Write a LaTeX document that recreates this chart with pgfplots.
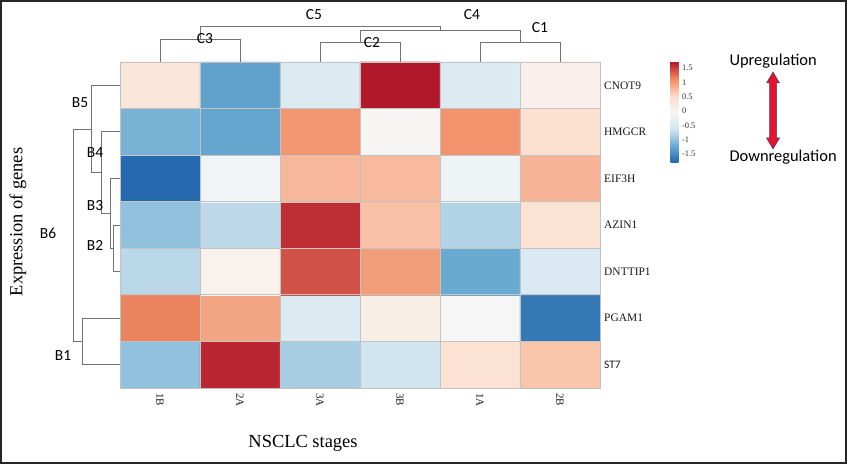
\documentclass[border=0pt]{standalone}
\usepackage{fontspec}
\setmainfont{Liberation Serif}
\newfontfamily\carlito{Carlito}
\usepackage{pgfplots}
\pgfplotsset{compat=1.18}
\usepackage{pgfplotstable}

% gene x stage values (x: 1B 2A 3A 3B 1A 2B ; y: ST7 ... CNOT9)
\pgfplotstableread{
x y c
0 0 -0.99
1 0 1.645
2 0 -0.87
3 0 -0.64
4 0 0.40
5 0 0.70
0 1 1.16
1 1 0.94
2 1 -0.47
3 1 0.15
4 1 -0.07
5 1 -1.65
0 2 -0.76
1 2 0.08
2 2 1.42
3 2 0.99
4 2 -1.21
5 2 -0.48
0 3 -0.99
1 3 -0.74
2 3 1.60
3 3 0.72
4 3 -0.81
5 3 0.38
0 4 -1.78
1 4 -0.16
2 4 0.80
3 4 0.78
4 4 -0.19
5 4 0.83
0 5 -1.13
1 5 -1.25
2 5 1.04
3 5 0.00
4 5 1.06
5 5 0.43
0 6 0.30
1 6 -1.28
2 6 -0.47
3 6 1.71
4 6 -0.47
5 6 0.10
}\heat

\definecolor{dendro}{RGB}{115,115,115}
\definecolor{cellline}{RGB}{195,195,195}
\definecolor{arrred}{RGB}{228,18,42}
\definecolor{arrblue}{RGB}{50,70,140}

\begin{document}
\begin{tikzpicture}[x=1bp,y=1bp]
\useasboundingbox (0,0) rectangle (847,464);
\draw[line width=2bp, black!85] (1,1) rectangle (846,463);

\begin{axis}[
  at={(120bp,76bp)}, anchor=south west,
  width=480bp, height=326bp, scale only axis,
  xmin=-0.5, xmax=5.5, ymin=-0.5, ymax=6.5,
  colormap={rdbu}{rgb255=(33,102,172) rgb255=(103,169,207) rgb255=(209,229,240)
    rgb255=(247,247,247) rgb255=(253,219,199) rgb255=(239,138,98) rgb255=(178,24,43)},
  point meta min=-1.81, point meta max=1.71,
  xtick={0,...,5}, xticklabels={1B,2A,3A,3B,1A,2B},
  ytick={0,...,6}, yticklabels={{\carlito ST7},PGAM1,DNTTIP1,AZIN1,EIF3H,HMGCR,CNOT9},
  yticklabel pos=right,
  minor xtick={-0.5,0.5,...,5.5}, minor ytick={-0.5,0.5,...,6.5},
  grid=minor, minor grid style={cellline, line width=0.8bp},
  axis line style={cellline, line width=0.8bp},
  major tick length=0, minor tick length=0,
  axis on top,
  xticklabel shift=5bp,
  xticklabel style={rotate=-90, anchor=west, inner sep=0pt,
    font=\fontsize{11}{12}\selectfont, text=black!90},
  yticklabel shift=4bp,
  yticklabel style={anchor=west, inner sep=0pt,
    font=\fontsize{11.5}{12}\selectfont, text=black!90},
  colorbar,
  colorbar style={
    at={(parent axis.north east)}, anchor=north west, xshift=62bp,
    width=8bp, height=101bp, scale only axis,
    ytick={-1.5,-1,...,1.5},
    axis line style={draw=none}, major tick length=0,
    yticklabel style={font=\fontsize{8.5}{9}\selectfont, text=black!80},
    /pgf/number format/assume math mode=true,
  },
]
\addplot[matrix plot*, mesh/cols=6, mesh/rows=7, point meta=explicit]
  table[x=x, y=y, meta=c] {\heat};
\end{axis}

% overlay in pixel coordinates of the reference
\begin{axis}[
  at={(423.5bp,232bp)}, anchor=center,
  width=847bp, height=464bp, scale only axis,
  xmin=0, xmax=847, ymin=0, ymax=464, y dir=reverse,
  hide axis, clip=false,
]
% column dendrogram
\addplot[dendro, line width=0.9bp] coordinates {(160,62) (160,39) (240,39) (240,62)};
\addplot[dendro, line width=0.9bp] coordinates {(320,62) (320,42) (400,42) (400,62)};
\addplot[dendro, line width=0.9bp] coordinates {(480,62) (480,42) (560,42) (560,62)};
\addplot[dendro, line width=0.9bp] coordinates {(360,42) (360,30) (520,30) (520,42)};
\addplot[dendro, line width=0.9bp] coordinates {(200,39) (200,26) (440,26) (440,30)};
% row dendrogram
\addplot[dendro, line width=0.9bp] coordinates {(120,225) (113,225) (113,271.6) (120,271.6)};
\addplot[dendro, line width=0.9bp] coordinates {(120,178.4) (110,178.4) (110,248.3) (113,248.3)};
\addplot[dendro, line width=0.9bp] coordinates {(120,131.9) (101,131.9) (101,213.3) (110,213.3)};
\addplot[dendro, line width=0.9bp] coordinates {(120,85.3) (91,85.3) (91,172.6) (101,172.6)};
\addplot[dendro, line width=0.9bp] coordinates {(120,318.1) (82,318.1) (82,364.7) (120,364.7)};
\addplot[dendro, line width=0.9bp] coordinates {(91,129) (73,129) (73,341.4) (82,341.4)};
% arrow
\addplot[fill=arrred, draw=arrblue, line width=0.5bp] coordinates {
  (773,72) (779.5,83) (776.5,83) (776.5,138) (779.5,138) (773,149)
  (766.5,138) (769.5,138) (769.5,83) (766.5,83) (773,72)} -- cycle;

\begin{scope}[every node/.style={font=\carlito\fontsize{15.5}{17}\selectfont}]
\node at (axis cs:314,15) {C5};
\node at (axis cs:472,15) {C4};
\node at (axis cs:540,28) {C1};
\node at (axis cs:205,39) {C3};
\node at (axis cs:372,43) {C2};
\node at (axis cs:80,103) {B5};
\node at (axis cs:95,153) {B4};
\node at (axis cs:95,206) {B3};
\node at (axis cs:95,245) {B2};
\node at (axis cs:48,233) {B6};
\node at (axis cs:63,356) {B1};
\end{scope}
\node[font=\carlito\fontsize{16.5}{18}\selectfont, anchor=west] at (axis cs:726,61) {Upregulation};
\node[font=\carlito\fontsize{16.5}{18}\selectfont, anchor=west] at (axis cs:726,157) {Downregulation};
\node[font=\fontsize{18.5}{20}\selectfont, rotate=90] at (axis cs:18,222) {Expression of genes};
\node[font=\fontsize{18.5}{20}\selectfont] at (axis cs:303,443) {NSCLC stages};
\end{axis}
\end{tikzpicture}
\end{document}
